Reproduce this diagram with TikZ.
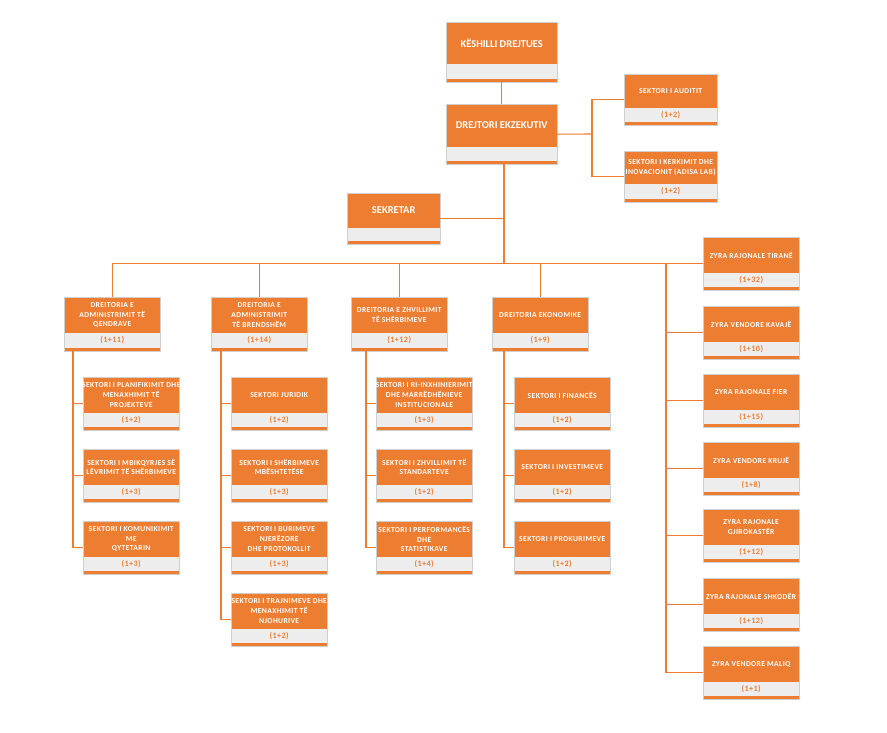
\documentclass[tikz,border=0pt]{standalone}
\usepackage{fontspec}
\setmainfont{Carlito}
\newfontfamily\smallfnt{Carlito}[LetterSpace=5]
\usetikzlibrary{calc,shadows}
\definecolor{orangeC}{HTML}{ED7D31}
\definecolor{bandC}{HTML}{EDEDED}
\definecolor{edgeC}{HTML}{CFCFCF}
\tikzset{
  obox/.style={rectangle, fill=orangeC, inner sep=0pt, anchor=north west,
    drop shadow={opacity=0.18, shadow xshift=1pt, shadow yshift=-1.2pt}},
  boxline/.style={draw=edgeC, line width=0.6pt},
  smalltxt/.style={text=white, align=center, inner sep=0pt,
    font=\smallfnt\fontsize{7.6}{9.6}\selectfont\bfseries},
  bigtxt/.style={text=white, align=center, inner sep=0pt,
    font=\fontsize{10.5}{12.5}\selectfont\bfseries},
  cnttxt/.style={text=orangeC, inner sep=0pt, font=\smallfnt\fontsize{8.2}{9}\selectfont\bfseries},
  conn/.style={draw=orangeC, line width=1.1pt}
}
% name, left, top, width, height, orange height, text style, text, count
\newcommand\obx[9]{%
  \node[obox, minimum width=#4pt, minimum height=#5pt] (#1) at (#2,#3) {};
  \fill[bandC] ($(#1.north west)+(0,#6)$) rectangle ($(#1.south east)+(0,-3)$);
  \draw[boxline] (#1.north west) rectangle (#1.south east);
  \node[#7] (#1-t) at ($(#1.north)+(0,{#6/2})$) {#8};
  \node[cnttxt] (#1-c) at ($(#1.north)+(0,{(#5+#6-3)/2})$) {#9};
}
\begin{document}
\begin{tikzpicture}[x=1pt,y=-1pt]
\fill[white] (0,0) rectangle (887,732);
\useasboundingbox (0,0) rectangle (887,732);

% top
\obx{kd}{446}{22}{111}{60}{42}{bigtxt}{KËSHILLI DREJTUES}{}
\obx{de}{446}{104}{111}{60}{43}{bigtxt}{DREJTORI EKZEKUTIV}{}
\obx{aud}{624}{74}{93}{51}{34}{smalltxt}{SEKTORI I AUDITIT}{(1+2)}
\obx{ker}{624}{151}{93}{51}{33}{smalltxt}{SEKTORI I KERKIMIT DHE\\INOVACIONIT (ADISA LAB)}{(1+2)}
\obx{sek}{347}{193}{93}{51}{35}{bigtxt}{SEKRETAR}{}

% directorates
\obx{d1}{64}{297}{96}{54}{36}{smalltxt}{DREITORIA E\\ADMINISTRIMIT TË\\QENDRAVE}{(1+11)}
\obx{d2}{211}{297}{96}{54}{36}{smalltxt}{DREITORIA E\\ADMINISTRIMIT\\TË BRENDSHËM}{(1+14)}
\obx{d3}{351}{297}{96}{54}{36}{smalltxt}{DREITORIA E ZHVILLIMIT\\TË SHËRBIMEVE}{(1+12)}
\obx{d4}{492}{297}{96}{54}{36}{smalltxt}{DREITORIA EKONOMIKE}{(1+9)}

% column 1
\obx{s11}{83}{377}{96}{53}{36}{smalltxt}{SEKTORI I PLANIFIKIMIT DHE\\MENAXHIMIT TË\\PROJEKTEVE}{(1+2)}
\obx{s12}{83}{449}{96}{53}{36}{smalltxt}{SEKTORI I MBIKQYRJES SË\\LËVRIMIT TË SHËRBIMEVE}{(1+3)}
\obx{s13}{83}{521}{96}{53}{36}{smalltxt}{SEKTORI I KOMUNIKIMIT\\ME\\QYTETARIN}{(1+3)}
% column 2
\obx{s21}{231}{377}{96}{53}{36}{smalltxt}{SEKTORI JURIDIK}{(1+2)}
\obx{s22}{231}{449}{96}{53}{36}{smalltxt}{SEKTORI I SHËRBIMEVE\\MBËSHTETËSE}{(1+3)}
\obx{s23}{231}{521}{96}{53}{36}{smalltxt}{SEKTORI I BURIMEVE\\NJERËZORE\\DHE PROTOKOLLIT}{(1+3)}
\obx{s24}{231}{593}{96}{53}{36}{smalltxt}{SEKTORI I TRAJNIMEVE DHE\\MENAXHIMIT TË\\NJOHURIVE}{(1+2)}
% column 3
\obx{s31}{376}{377}{96}{53}{36}{smalltxt}{SEKTORI I RI-INXHINIERIMIT\\DHE MARRËDHËNIEVE\\INSTITUCIONALE}{(1+3)}
\obx{s32}{376}{449}{96}{53}{36}{smalltxt}{SEKTORI I ZHVILLIMIT TË\\STANDARTEVE}{(1+2)}
\obx{s33}{376}{521}{96}{53}{36}{smalltxt}{SEKTORI I PERFORMANCËS\\DHE\\STATISTIKAVE}{(1+4)}
% column 4
\obx{s41}{514}{377}{96}{53}{36}{smalltxt}{SEKTORI I FINANCËS}{(1+2)}
\obx{s42}{514}{449}{96}{53}{36}{smalltxt}{SEKTORI I INVESTIMEVE}{(1+2)}
\obx{s43}{514}{521}{96}{53}{36}{smalltxt}{SEKTORI I PROKURIMEVE}{(1+2)}

% regional offices
\obx{z1}{703}{237}{96}{53}{36}{smalltxt}{ZYRA RAJONALE TIRANË}{(1+32)}
\obx{z2}{703}{306}{96}{53}{36}{smalltxt}{ZYRA VENDORE KAVAJË}{(1+10)}
\obx{z3}{703}{374}{96}{53}{36}{smalltxt}{ZYRA RAJONALE FIER}{(1+15)}
\obx{z4}{703}{442}{96}{53}{36}{smalltxt}{ZYRA VENDORE KRUJË}{(1+8)}
\obx{z5}{703}{509}{96}{53}{36}{smalltxt}{ZYRA RAJONALE\\GJIROKASTËR}{(1+12)}
\obx{z6}{703}{578}{96}{53}{36}{smalltxt}{ZYRA RAJONALE SHKODËR}{(1+12)}
\obx{z7}{703}{646}{96}{53}{36}{smalltxt}{ZYRA VENDORE MALIQ}{(1+1)}

% connectors
\coordinate (dvt) at (504,164);
\coordinate (rb) at (666,263.5);
\coordinate (ra) at (592,134);
\coordinate (c1) at (73,351);
\coordinate (c2) at (221,351);
\coordinate (c3) at (366,351);
\coordinate (c4) at (504,351);

\draw[conn] (kd.south) -- (de.north);
\draw[conn] (de.east) -- (ra);
\draw[conn] (aud.west) -| (ra) |- (ker.west);
\draw[conn] (dvt) -- (dvt |- rb);
\draw[conn] (sek.east) -- (sek.east -| dvt);
\draw[conn] (d1.north) |- (z1.west);
\draw[conn] (d2.north) -- (d2.north |- rb);
\draw[conn] (d3.north) -- (d3.north |- rb);
\draw[conn] (d4.north) -- (d4.north |- rb);
\draw[conn] (rb) |- (z7.west);
\foreach \z in {z2,z3,z4,z5,z6} \draw[conn] (rb |- \z.west) -- (\z.west);

\draw[conn] (c1) |- (s13.west);
\draw[conn] (c1 |- s11.west) -- (s11.west);
\draw[conn] (c1 |- s12.west) -- (s12.west);
\draw[conn] (c2) |- (s24.west);
\foreach \s in {s21,s22,s23} \draw[conn] (c2 |- \s.west) -- (\s.west);
\draw[conn] (c3) |- (s33.west);
\foreach \s in {s31,s32} \draw[conn] (c3 |- \s.west) -- (\s.west);
\draw[conn] (c4) |- (s43.west);
\foreach \s in {s41,s42} \draw[conn] (c4 |- \s.west) -- (\s.west);
\end{tikzpicture}
\end{document}
